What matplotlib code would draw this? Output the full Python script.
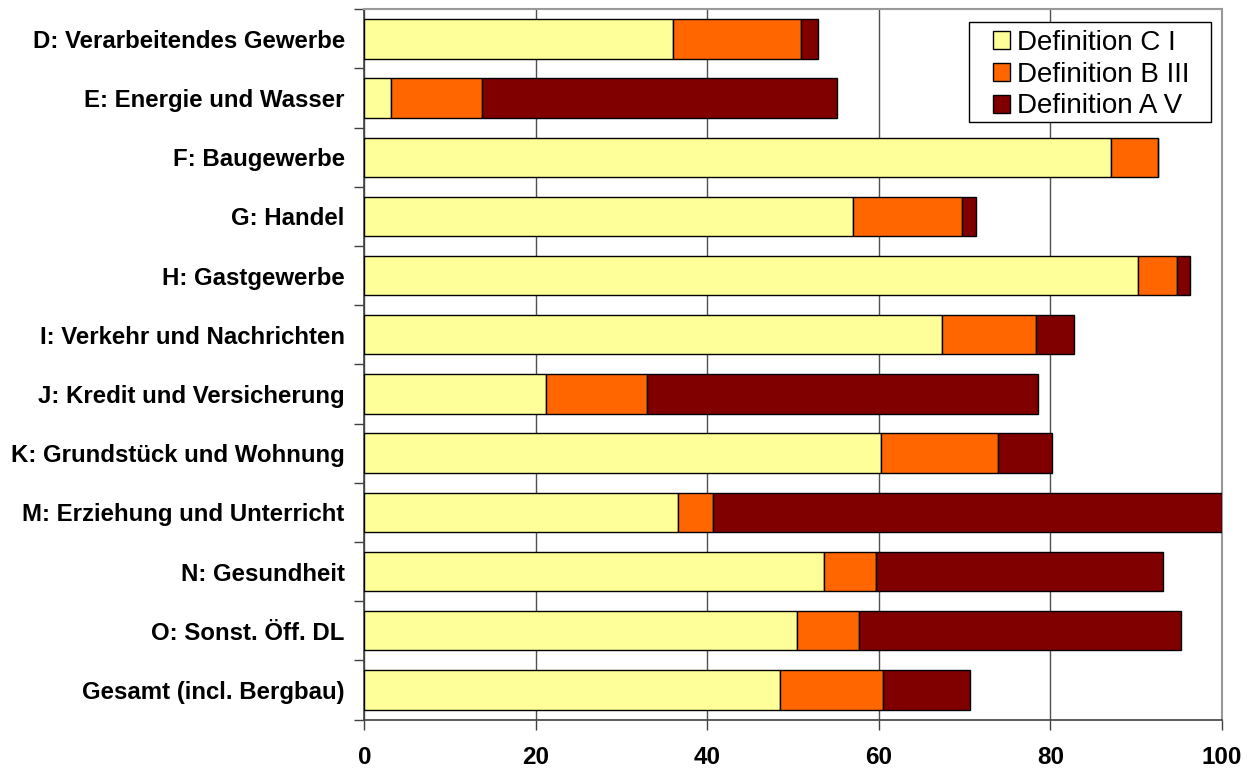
import matplotlib
matplotlib.use("Agg")
import matplotlib.pyplot as plt
from matplotlib.patches import Rectangle
import numpy as np

plt.rcParams['font.family'] = ['Liberation Sans', 'DejaVu Sans']

categories = [
    "D: Verarbeitendes Gewerbe",
    "E: Energie und Wasser",
    "F: Baugewerbe",
    "G: Handel",
    "H: Gastgewerbe",
    "I: Verkehr und Nachrichten",
    "J: Kredit und Versicherung",
    "K: Grundstück und Wohnung",
    "M: Erziehung und Unterricht",
    "N: Gesundheit",
    "O: Sonst. Öff. DL",
    "Gesamt (incl. Bergbau)",
]

def_c1 = [36.0, 3.1, 87.1, 57.0, 90.2, 67.3, 21.2, 60.2, 36.6, 53.6, 50.4, 48.5]
def_b3 = [14.9, 10.6, 5.4, 12.7, 4.5, 11.0, 11.8, 13.7, 4.1, 6.1, 7.3, 12.0]
def_a5 = [2.0, 41.4, 0.0, 1.6, 1.6, 4.5, 45.5, 6.3, 59.3, 33.4, 37.5, 10.1]

series_labels = ["Definition C I", "Definition B III", "Definition A V"]
series_colors = ["#FFFF99", "#FF6600", "#800000"]
x_ticks = [0, 20, 40, 60, 80, 100]

fig = plt.figure(figsize=(12.56, 7.70), dpi=100)
ax = fig.add_axes([364.3 / 1256, 1 - 719.5 / 770, (1222 - 364.3) / 1256, (719.5 - 9.3) / 770])

y = np.arange(len(categories))
left = np.zeros(len(categories))
for vals, lab, col in zip([def_c1, def_b3, def_a5], series_labels, series_colors):
    vals = np.array(vals)
    ax.barh(y, vals, left=left, height=0.665, color=col, edgecolor="black",
            linewidth=1.0, label=lab, zorder=3)
    left = left + vals

ax.set_xlim(0, 100)
ax.set_ylim(len(categories) - 0.5, -0.5)

ax.set_xticks(x_ticks)
ax.set_xticklabels([str(t) for t in x_ticks], fontsize=17.5, fontweight="bold")
ax.tick_params(axis="x", direction="out", length=7, width=1, color="#404040", pad=12)

# category labels centred between boundary ticks
ax.set_yticks(np.arange(len(categories) + 1) - 0.5)
ax.set_yticklabels([])
ax.set_yticks(y, minor=True)
ax.set_yticklabels(categories, minor=True, fontsize=17.3, fontweight="bold")
ax.tick_params(axis="y", which="major", direction="out", length=7, width=1, color="#404040")
ax.tick_params(axis="y", which="minor", length=0, pad=14)

ax.grid(axis="x", color="#505050", linewidth=1.0, zorder=0)
ax.set_axisbelow(True)

for side in ("top", "right"):
    ax.spines[side].set_color("#999999")
    ax.spines[side].set_linewidth(1.5)
for side in ("left", "bottom"):
    ax.spines[side].set_color("#404040")
    ax.spines[side].set_linewidth(1.2)

# legend box with wider side padding than top/bottom
ax.add_patch(Rectangle((0.705, 0.841), 0.282, 0.141, transform=ax.transAxes,
                       facecolor="white", edgecolor="black", linewidth=1.0, zorder=4))
leg = ax.legend(loc="upper left", bbox_to_anchor=(0.733, 0.9705), borderaxespad=0,
                fontsize=20, frameon=False, borderpad=0,
                handlelength=0.62, handleheight=0.62, handletextpad=0.25,
                labelspacing=0.2)
leg.set_zorder(5)

fig.savefig("out.png", dpi=100)
